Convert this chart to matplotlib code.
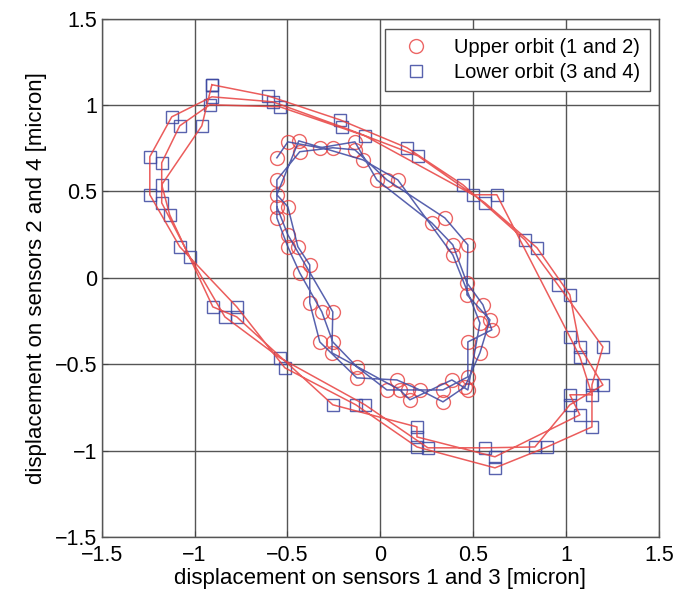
import numpy as np
import matplotlib.pyplot as plt

plt.rcParams['font.family'] = ['Liberation Sans', 'DejaVu Sans']

# upper orbit (sensors 1 and 2), three laps, micron
up_x = [-0.557, -0.498, -0.326, -0.137, -0.019, 0.277, 0.390, 0.466, 0.552, 0.600, 0.471, 0.471,
        0.337, 0.148, 0.035, -0.127, -0.256, -0.315, -0.434, -0.498, -0.557, -0.557,
        -0.434, -0.256, -0.137, 0.035, 0.347, 0.471, 0.466, 0.590, 0.536, 0.455,
        0.337, 0.213, 0.089, -0.127, -0.326, -0.380, -0.380, -0.444, -0.498, -0.557,
        -0.439, -0.094, 0.094, 0.390, 0.536, 0.471, 0.385, 0.159, 0.105, -0.261,
        -0.256, -0.498, -0.557]
up_y = [0.695, 0.787, 0.753, 0.787, 0.567, 0.318, 0.191, -0.029, -0.156, -0.301, -0.371, -0.573,
        -0.649, -0.649, -0.649, -0.515, -0.371, -0.197, 0.029, 0.180, 0.347, 0.567,
        0.730, 0.753, 0.741, 0.567, 0.347, 0.191, -0.098, -0.243, -0.434, -0.631,
        -0.718, -0.649, -0.591, -0.579, -0.371, -0.145, 0.075, 0.180, 0.411, 0.481,
        0.793, 0.683, 0.567, 0.133, -0.261, -0.649, -0.591, -0.706, -0.649, -0.434,
        -0.197, 0.249, 0.411]

# lower orbit (sensors 3 and 4), three laps, micron
lo_x = [-0.907, -0.606, -0.218, 0.143, 0.444, 0.778, 0.956, 1.198, 1.139, 1.139,
        0.897, 0.617, 0.197, -0.132, -0.514, -0.773, -1.080, -1.241, -1.241, -1.123,
        -0.907, -0.579, -0.207, 0.202, 0.563, 0.843, 1.020, 1.074, 1.198, 1.020,
        0.832, 0.563, 0.256, -0.083, -0.541, -0.837, -1.026, -1.177, -1.177, -1.080,
        -0.918, -0.541, -0.083, 0.498, 0.627, 1.020, 1.074, 1.139, 1.020, 1.074,
        0.617, 0.197, 0.197, -0.256, -0.773, -0.902, -1.134, -1.177, -0.961, -0.907]
lo_y = [1.118, 1.054, 0.915, 0.753, 0.539, 0.220, -0.041, -0.400, -0.620, -0.863,
        -0.979, -1.100, -0.979, -0.735, -0.521, -0.168, 0.180, 0.481, 0.701, 0.932,
        1.048, 1.019, 0.874, 0.706, 0.434, 0.174, -0.098, -0.400, -0.620, -0.735,
        -0.979, -0.984, -0.984, -0.735, -0.463, -0.226, 0.122, 0.434, 0.666, 0.880,
        1.002, 0.990, 0.822, 0.481, 0.481, -0.342, -0.457, -0.677, -0.677, -0.793,
        -1.036, -0.921, -0.863, -0.735, -0.226, -0.168, 0.365, 0.539, 0.880, 1.118]

ticks = [-1.5, -1, -0.5, 0, 0.5, 1, 1.5]
tick_labels = ['\u22121.5', '\u22121', '\u22120.5', '0', '0.5', '1', '1.5']

red = '#e8403f'
blue = '#3b46a0'

fig = plt.figure(figsize=(6.78, 6.04), dpi=100)
ax = fig.add_axes([0.150, 0.111, 0.822, 0.858])

# markers first, connecting lines on top (colours swapped between orbits)
ax.plot(up_x, up_y, 'o', ms=10, mfc='none', mec=red, mew=1.0, alpha=0.8,
        label='Upper orbit (1 and 2)')
ax.plot(lo_x, lo_y, 's', ms=9, mfc='none', mec=blue, mew=1.0, alpha=0.85,
        label='Lower orbit (3 and 4)')
ax.plot(up_x, up_y, '-', color=blue, lw=1.1, alpha=0.85)
ax.plot(lo_x, lo_y, '-', color=red, lw=1.1, alpha=0.85)

ax.set_xlim(-1.5, 1.5)
ax.set_ylim(-1.5, 1.5)
ax.set_xticks(ticks)
ax.set_yticks(ticks)
ax.set_xticklabels(tick_labels)
ax.set_yticklabels(tick_labels)
ax.tick_params(direction='in', length=4, labelsize=15.5, color='#444444')
ax.tick_params(axis='x', pad=6)
ax.tick_params(axis='y', pad=3)
ax.grid(True, color='#555555', lw=1.0)
for s in ax.spines.values():
    s.set_color('#555555')
    s.set_linewidth(1.0)

ax.set_xlabel('displacement on sensors 1 and 3 [micron]', fontsize=16, labelpad=1)
ax.set_ylabel('displacement on sensors 2 and 4 [micron]', fontsize=16, labelpad=6)

leg = ax.legend(loc='upper right', bbox_to_anchor=(0.983, 0.98), borderaxespad=0,
                fontsize=14.5, fancybox=False, framealpha=1, edgecolor='#555555',
                handlelength=2.2, handletextpad=0.8, borderpad=0.45, labelspacing=0.3)
leg.get_frame().set_linewidth(1.0)

fig.savefig('out.png', dpi=100)
